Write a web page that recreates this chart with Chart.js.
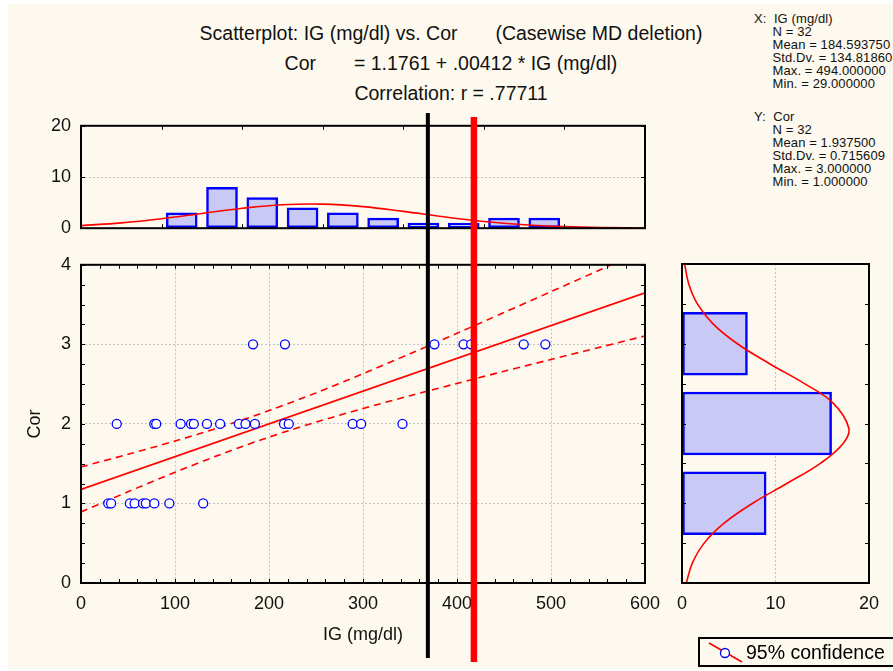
<!DOCTYPE html>
<html>
<head>
<meta charset="utf-8">
<script src="https://cdn.jsdelivr.net/npm/chart.js@4.4.0/dist/chart.umd.min.js"></script>
<style>
body { margin: 0; width: 893px; height: 671px; overflow: hidden; background: #fff; position: relative; font-family: 'Liberation Sans', Arial, sans-serif; }
#paper { position: absolute; left: 8px; top: 4px; width: 885px; height: 665px; background: #fdf9ee; }
canvas { position: absolute; }
.t { position: absolute; white-space: pre; color: #111; }
.title { left: 0; width: 902px; text-align: center; font-size: 19.5px; line-height: 22px; }
.stats { left: 754px; font-size: 13px; line-height: 13px; letter-spacing: 0.1px; }
#legend { position: absolute; left: 698px; top: 637px; width: 200px; height: 26px; border: 2px solid #000; }
#legend span { position: absolute; left: 46px; top: 2px; font-size: 19.5px; line-height: 22px; white-space: nowrap; }
</style>
</head>
<body>
<div id="paper"></div>

<div class="t title" style="top:22px">Scatterplot: IG (mg/dl) vs. Cor       (Casewise MD deletion)</div>
<div class="t title" style="top:52px">Cor       = 1.1761 + .00412 * IG (mg/dl)</div>
<div class="t title" style="top:82px">Correlation: r = .77711</div>

<div class="t stats" style="top:12px">X:  IG (mg/dl)
     N = 32
     Mean = 184.593750
     Std.Dv. = 134.818600
     Max. = 494.000000
     Min. = 29.000000</div>
<div class="t stats" style="top:110px">Y:  Cor
     N = 32
     Mean = 1.937500
     Std.Dv. = 0.715609
     Max. = 3.000000
     Min. = 1.000000</div>

<canvas id="topHist" width="660" height="144" style="left:0;top:105px"></canvas>
<canvas id="scatter" width="690" height="416" style="left:0;top:244px"></canvas>
<canvas id="rightHist" width="226" height="416" style="left:667px;top:244px"></canvas>
<canvas id="overlay" width="893" height="671" style="left:0;top:0;pointer-events:none"></canvas>

<div id="legend">
  <svg width="44" height="26" style="position:absolute;left:4px;top:0">
    <line x1="5" y1="4" x2="38" y2="23" stroke="#ff0000" stroke-width="1.5"/>
    <circle cx="21" cy="14" r="4.5" fill="#fff" stroke="#0000ff" stroke-width="1.3"/>
  </svg>
  <span>95% confidence</span>
</div>

<script>
// raw cases: IG (mg/dl) and Cor
var ig  = [29, 32, 52, 57, 66, 69, 78, 94, 130,
           38, 78, 80, 106, 117, 120, 134, 148, 168, 175, 185, 216, 221, 289, 298, 342,
           183, 217, 376, 407, 415, 471, 494];
var cor = [1, 1, 1, 1, 1, 1, 1, 1, 1,
           2, 2, 2, 2, 2, 2, 2, 2, 2, 2, 2, 2, 2, 2, 2, 2,
           3, 3, 3, 3, 3, 3, 3];

// regression line end points and 95% confidence band
var fitX = [0, 600];
var fitY = [1.1761, 3.6481];
var bandX = [0, 50, 100, 150, 200, 250, 300, 350, 400, 450, 500, 550, 600];
var bandUpper = [1.459, 1.618, 1.784, 1.965, 2.167, 2.390, 2.631, 2.882, 3.139, 3.400, 3.662, 3.926, 4.191];
var bandLower = [0.893, 1.147, 1.392, 1.623, 1.834, 2.022, 2.193, 2.354, 2.509, 2.661, 2.810, 2.958, 3.105];

// IG histogram (bins of 50) and its normal curve
var igBinCenters = [25, 75, 125, 175, 225, 275, 325, 375, 425, 475];
var igBinCounts = [3, 8, 6, 4, 3, 2, 1, 1, 2, 2];
var igCurveX = [-100, -50, 0, 50, 100, 150, 200, 250, 300, 350, 400, 450, 500, 550, 600];
var igCurveY = [0.510, 1.042, 1.855, 2.877, 3.889, 4.582, 4.704, 4.210, 3.282, 2.231, 1.321, 0.682, 0.307, 0.120, 0.041];

// Cor histogram and its normal curve
var corBins = [1, 2, 3];
var corCounts = [9, 16, 7];
var corCurveY = [0, 0.25, 0.5, 0.75, 1, 1.25, 1.5, 1.75, 1.94, 2.25, 2.5, 2.75, 3, 3.25, 3.5, 3.75, 4];
var corCurveX = [0.457, 1.106, 2.371, 4.503, 7.563, 11.245, 14.799, 17.240, 17.840, 16.219, 13.099, 9.365, 5.927, 3.318, 1.645, 0.722, 0.280];

// vertical marker lines (IG values)
var markerX = [369, 418];
var markerColor = ['#000000', '#ff0000'];

var FONT = "'Liberation Sans', Arial, sans-serif";
Chart.defaults.font.family = FONT;
Chart.defaults.color = '#111';
Chart.defaults.animation = false;
Chart.defaults.plugins.legend.display = false;
Chart.defaults.plugins.tooltip.enabled = false;

function pts(xs, ys) {
    return xs.map(function (x, i) { return { x: x, y: ys[i] }; });
}
function fixWidth(w) { return function (s) { s.width = w; }; }
function fixHeight(h) { return function (s) { s.height = h; }; }
function onlyAt(v) {
    return function (c) { return c.tick && c.tick.value === v ? '#c4c4c4' : 'rgba(0,0,0,0)'; };
}

// box round the plot area with small inward ticks
var framePlugin = {
    id: 'frame',
    afterDatasetsDraw: function (chart, args, opts) {
        var ctx = chart.ctx, a = chart.chartArea, sx = chart.scales.x, sy = chart.scales.y;
        ctx.save();
        ctx.strokeStyle = '#000';
        ctx.lineWidth = 1;
        ctx.beginPath();
        var v, p;
        if (opts.xStep) {
            for (v = sx.min; v <= sx.max + 1e-9; v += opts.xStep) {
                p = Math.round(sx.getPixelForValue(v)) + 0.5;
                ctx.moveTo(p, a.bottom); ctx.lineTo(p, a.bottom - 4);
                ctx.moveTo(p, a.top); ctx.lineTo(p, a.top + 4);
            }
        }
        if (opts.yStep) {
            for (v = sy.min; v <= sy.max + 1e-9; v += opts.yStep) {
                p = Math.round(sy.getPixelForValue(v)) + 0.5;
                ctx.moveTo(a.left, p); ctx.lineTo(a.left + 4, p);
                ctx.moveTo(a.right, p); ctx.lineTo(a.right - 4, p);
            }
        }
        ctx.stroke();
        ctx.lineWidth = 2;
        ctx.strokeRect(a.left, a.top, a.right - a.left, a.bottom - a.top);
        ctx.restore();
    }
};

var tickFont = { size: 18 };
var barFill = '#c9c9f6';
var blue = '#0000ff';
var red = '#ff0000';

// top: IG histogram
var topChart = new Chart(document.getElementById('topHist'), {
    type: 'bar',
    plugins: [framePlugin],
    data: {
        datasets: [{
            type: 'line',
            data: pts(igCurveX, igCurveY),
            borderColor: red, borderWidth: 1.6, pointRadius: 0, tension: 0.4
        }, {
            data: pts(igBinCenters, igBinCounts),
            backgroundColor: barFill, borderColor: blue, borderWidth: 2.5,
            borderSkipped: false, barThickness: 31
        }]
    },
    options: {
        responsive: false,
        layout: { padding: { top: 20, right: 15, left: 0, bottom: 13 } },
        plugins: { frame: { xStep: 100, yStep: 10 } },
        scales: {
            x: {
                type: 'linear', min: -100, max: 600, offset: false, display: false,
                ticks: { stepSize: 100 }
            },
            y: {
                min: 0, max: 20,
                ticks: { stepSize: 10, padding: 10, font: tickFont },
                grid: { color: onlyAt(10), drawTicks: false },
                border: { display: false, dash: [2, 2] },
                afterFit: fixWidth(81)
            }
        }
    }
});

// middle: scatter with fit and confidence band
var scatterChart = new Chart(document.getElementById('scatter'), {
    type: 'scatter',
    plugins: [framePlugin],
    data: {
        datasets: [{
            data: pts(ig, cor),
            pointStyle: 'circle', pointRadius: 4.5,
            pointBackgroundColor: '#fff', pointBorderColor: blue, pointBorderWidth: 1.3
        }, {
            data: pts(fitX, fitY), showLine: true,
            borderColor: red, borderWidth: 1.6, pointRadius: 0
        }, {
            data: pts(bandX, bandUpper), showLine: true, tension: 0.3,
            borderColor: red, borderWidth: 1.6, borderDash: [7, 5], pointRadius: 0
        }, {
            data: pts(bandX, bandLower), showLine: true, tension: 0.3,
            borderColor: red, borderWidth: 1.6, borderDash: [7, 5], pointRadius: 0
        }]
    },
    options: {
        responsive: false,
        layout: { padding: { top: 20, right: 45, left: 0, bottom: 0 } },
        plugins: { frame: { xStep: 20, yStep: 0.25 } },
        scales: {
            x: {
                type: 'linear', min: 0, max: 600,
                ticks: { stepSize: 100, padding: 10, font: tickFont },
                grid: { color: '#c4c4c4', drawTicks: false },
                border: { display: false, dash: [2, 2] },
                title: { display: true, text: 'IG (mg/dl)', font: { size: 18 }, padding: { top: 0, bottom: 14 } },
                afterFit: fixHeight(77)
            },
            y: {
                min: 0, max: 4,
                ticks: { stepSize: 1, padding: 10, font: tickFont },
                grid: { color: '#c4c4c4', drawTicks: false },
                border: { display: false, dash: [2, 2] },
                title: { display: true, text: 'Cor', font: { size: 18 }, padding: { top: 24, bottom: 0 } },
                afterFit: fixWidth(81)
            }
        }
    }
});

// right: Cor histogram, lying on its side
var rightChart = new Chart(document.getElementById('rightHist'), {
    type: 'bar',
    plugins: [framePlugin],
    data: {
        datasets: [{
            type: 'line', indexAxis: 'y',
            data: pts(corCurveX, corCurveY),
            borderColor: red, borderWidth: 1.6, pointRadius: 0, tension: 0.4
        }, {
            indexAxis: 'y',
            data: corBins.map(function (b, i) { return { x: corCounts[i], y: b }; }),
            backgroundColor: barFill, borderColor: blue, borderWidth: 2.5,
            borderSkipped: false, barThickness: 63
        }]
    },
    options: {
        responsive: false,
        indexAxis: 'y',
        layout: { padding: { top: 20, right: 24, left: 0, bottom: 0 } },
        plugins: { frame: { yStep: 0.5 } },
        scales: {
            x: {
                type: 'linear', min: 0, max: 20, offset: false,
                ticks: { stepSize: 10, padding: 10, font: tickFont },
                grid: { color: onlyAt(10), drawTicks: false },
                border: { display: false, dash: [2, 2] },
                afterFit: fixHeight(77)
            },
            y: {
                type: 'linear', min: 0, max: 4, offset: false,
                ticks: { display: false, stepSize: 0.5 },
                grid: { display: false }, border: { display: false },
                afterFit: fixWidth(9)
            }
        }
    }
});

// black and red vertical markers placed on the IG scale, running over both top panels
var ov = document.getElementById('overlay').getContext('2d');
var sx = scatterChart.scales.x;
var tops = [113, 117], bottoms = [658, 662], widths = [4, 6.5];
markerX.forEach(function (v, i) {
    var px = sx.getPixelForValue(v);
    ov.fillStyle = markerColor[i];
    ov.fillRect(px - widths[i] / 2, tops[i], widths[i], bottoms[i] - tops[i]);
});
</script>
</body>
</html>
